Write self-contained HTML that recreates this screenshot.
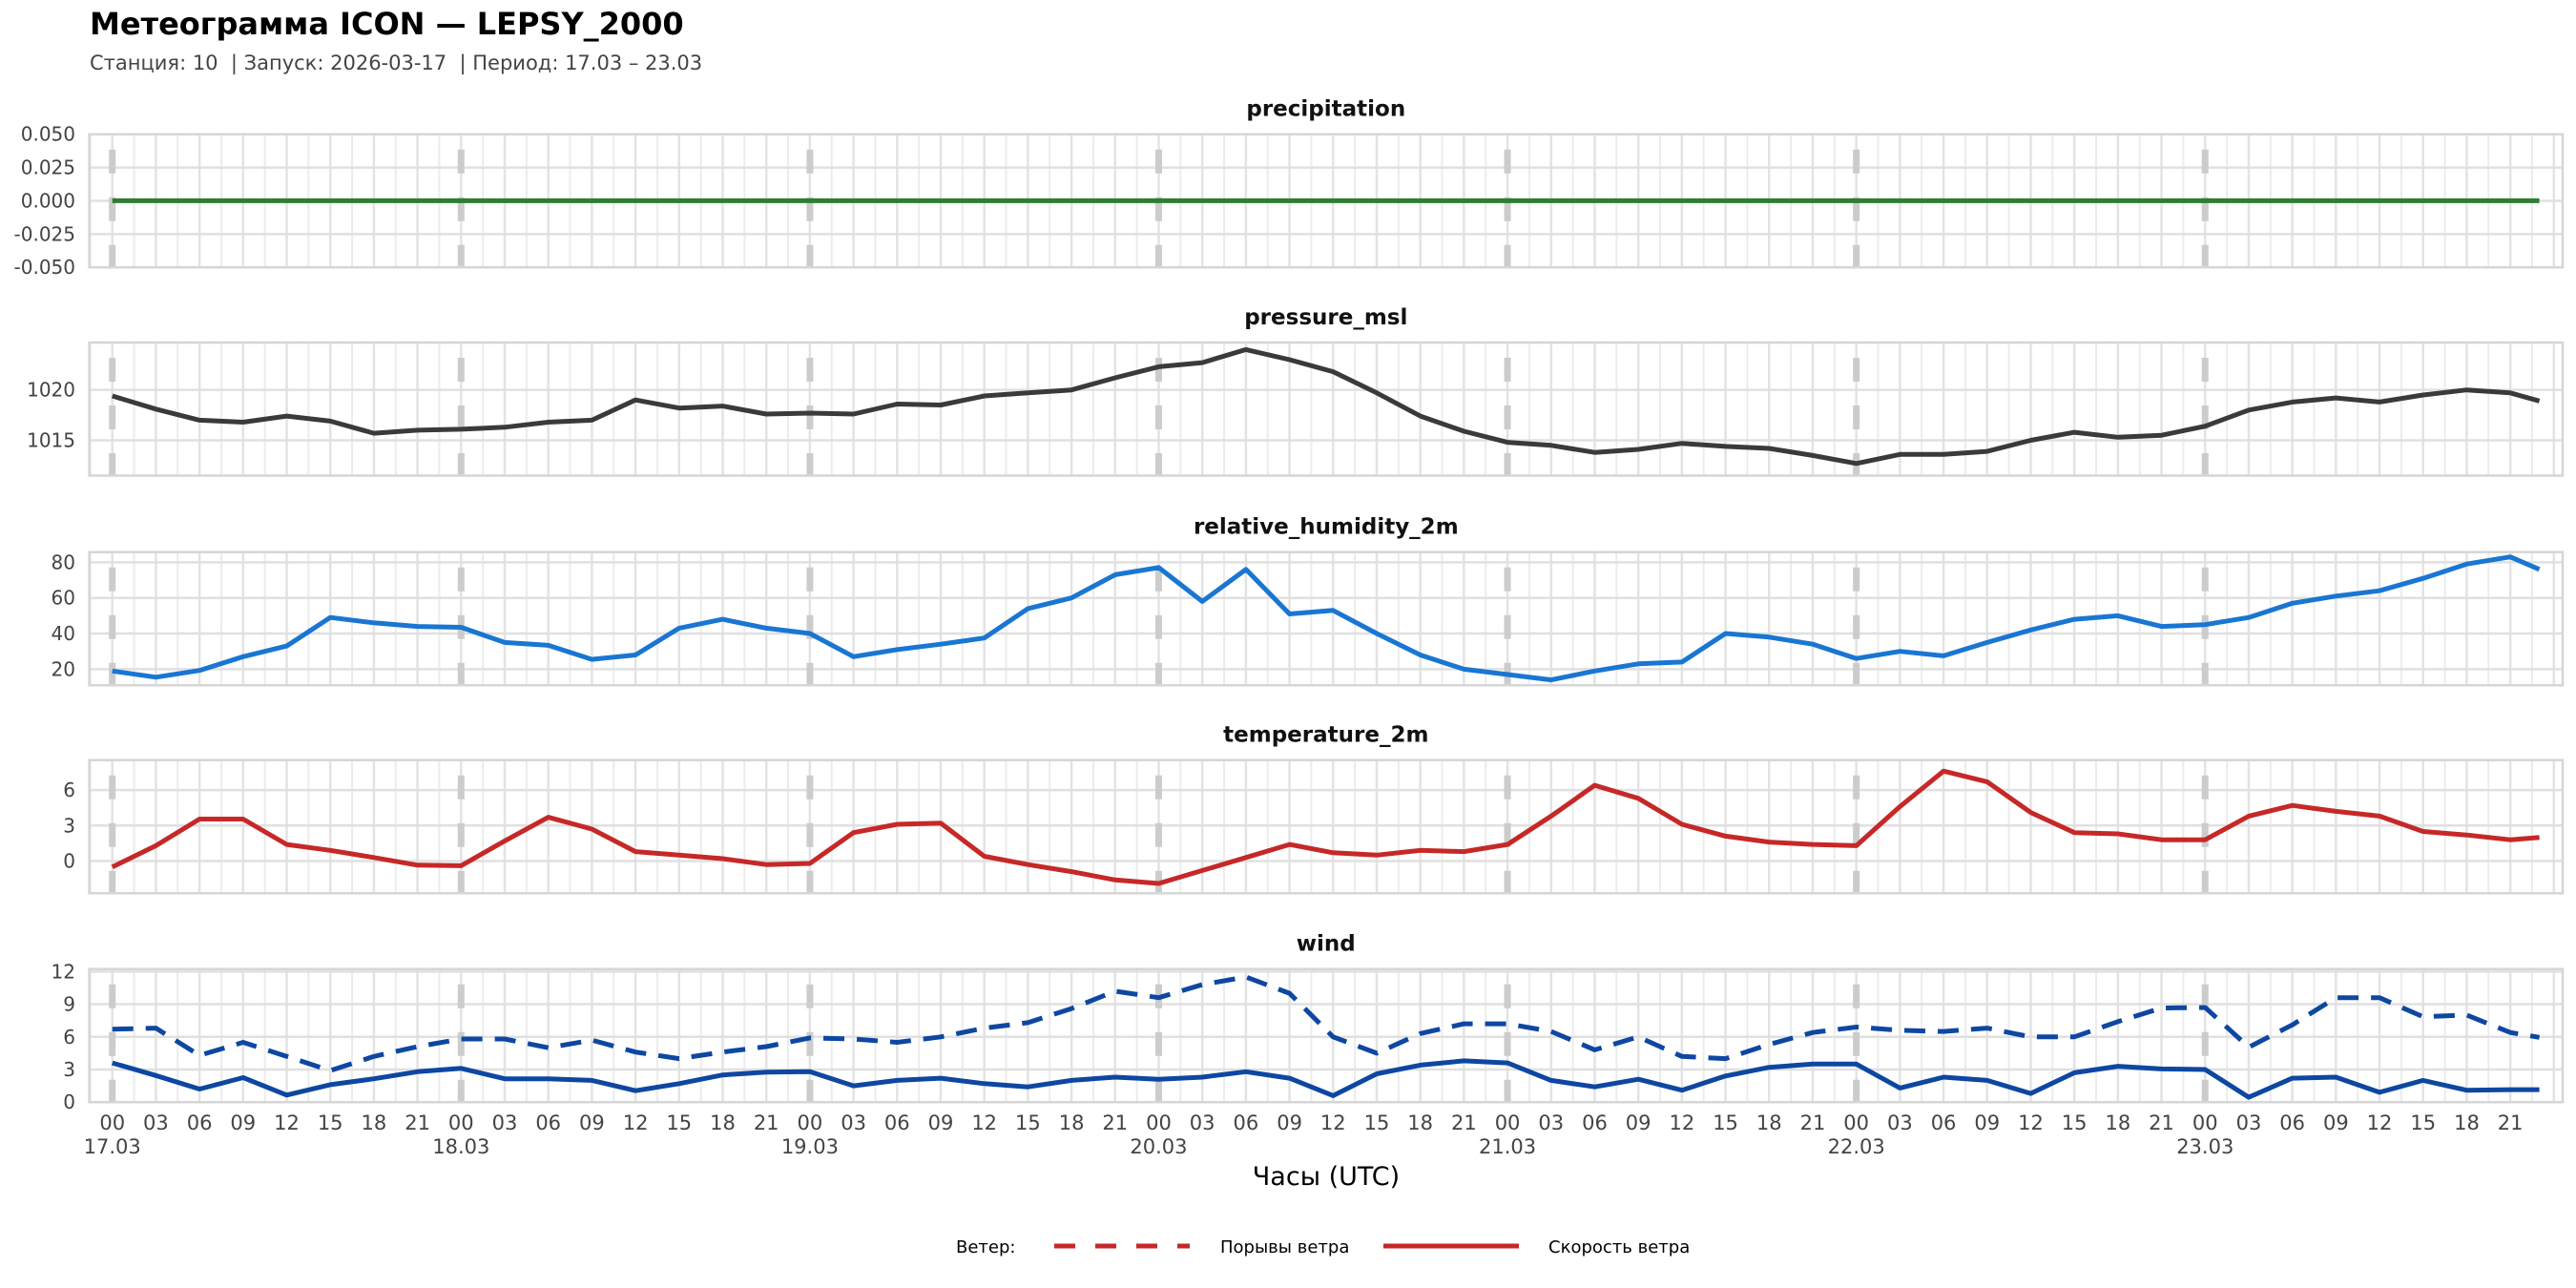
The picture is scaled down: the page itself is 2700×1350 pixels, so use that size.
<!DOCTYPE html>
<html><head><meta charset="utf-8"><style>
html,body{margin:0;padding:0;background:#fff;}
svg{display:block;font-family:"DejaVu Sans","Liberation Sans",sans-serif;}
.pre{white-space:pre;}
</style></head><body>
<svg id="chart" width="2700" height="1350" viewBox="0 0 2700 1350" xmlns="http://www.w3.org/2000/svg">
<text x="94" y="36" font-size="32" font-weight="bold" fill="#000">Метеограмма ICON — LEPSY_2000</text>
<text class="pre" xml:space="preserve" x="94" y="73" font-size="21" fill="#444">Станция: 10  | Запуск: 2026-03-17  | Период: 17.03 – 23.03</text>
<g id="panels"></g>
<text x="1390" y="1242" font-size="27" text-anchor="middle" fill="#000">Часы (UTC)</text>
<g>
<text x="1002" y="1313" font-size="18" fill="#000">Ветер:</text>
<line x1="1105" y1="1306" x2="1247" y2="1306" stroke="#c62828" stroke-width="5" stroke-dasharray="22,21"/>
<text x="1279" y="1313" font-size="18" fill="#000">Порывы ветра</text>
<line x1="1450" y1="1306" x2="1592" y2="1306" stroke="#c62828" stroke-width="5"/>
<text x="1623" y="1313" font-size="18" fill="#000">Скорость ветра</text>
</g>
</svg>
<script>
const hours = [0,3,6,9,12,15,18,21,24,27,30,33,36,39,42,45,48,51,54,57,60,63,66,69,72,75,78,81,84,87,90,93,96,99,102,105,108,111,114,117,120,123,126,129,132,135,138,141,144,147,150,153,156,159,162,165,167];
const precipitation = hours.map(()=>0);
const pressure = [1019.4,1018.1,1017.0,1016.8,1017.4,1016.9,1015.7,1016.0,
1016.1,1016.3,1016.8,1017.0,1019.0,1018.2,1018.4,1017.6,
1017.7,1017.6,1018.6,1018.5,1019.4,1019.7,1020.0,1021.2,
1022.3,1022.7,1024.0,1023.0,1021.8,1019.7,1017.4,1015.9,
1014.8,1014.5,1013.8,1014.1,1014.7,1014.4,1014.2,1013.5,
1012.7,1013.6,1013.6,1013.9,1015.0,1015.8,1015.3,1015.5,
1016.4,1018.0,1018.8,1019.2,1018.8,1019.5,1020.0,1019.7,1018.9];
const humidity = [19,15.5,19.3,27,33,49,46,44,
43.5,35,33.4,25.5,28,43,48,43,
40,27,31,34,37.5,54,60,73,
77,58,76,51,53,40,28,20,
17,14,19,23,24,40,38,34,
26,30,27.5,35,42,48,50,44,
45,49,57,61,64,71,79,83,76];
const temperature = [-0.5,1.3,3.55,3.55,1.4,0.9,0.3,-0.35,
-0.4,1.7,3.7,2.7,0.8,0.5,0.2,-0.3,
-0.2,2.4,3.1,3.2,0.4,-0.3,-0.9,-1.6,
-1.9,-0.8,0.3,1.4,0.7,0.5,0.9,0.8,
1.4,3.8,6.4,5.3,3.1,2.1,1.6,1.4,
1.3,4.6,7.6,6.7,4.1,2.4,2.3,1.8,
1.8,3.8,4.7,4.2,3.8,2.5,2.2,1.8,2.0];
const windSpeed = [3.6,2.45,1.2,2.25,0.65,1.6,2.15,2.8,
3.1,2.15,2.15,2.0,1.05,1.7,2.5,2.75,
2.8,1.5,2.0,2.2,1.7,1.4,2.0,2.3,
2.1,2.3,2.8,2.2,0.6,2.6,3.4,3.8,
3.6,2.0,1.4,2.1,1.1,2.4,3.2,3.5,
3.5,1.3,2.3,2.0,0.8,2.7,3.3,3.05,
3.0,0.45,2.2,2.3,0.9,2.0,1.1,1.15,1.15];
const windGust = [6.7,6.8,4.3,5.5,4.2,2.9,4.2,5.1,
5.8,5.8,5.0,5.7,4.6,4.0,4.6,5.1,
5.9,5.8,5.5,6.0,6.8,7.3,8.6,10.2,
9.6,10.8,11.5,10.0,6.0,4.5,6.3,7.2,
7.2,6.5,4.8,6.0,4.2,4.0,5.3,6.4,
6.9,6.6,6.5,6.8,6.0,6.0,7.4,8.65,
8.7,5.05,7.1,9.6,9.6,7.85,8.0,6.4,5.95];
const precipTicks = [0.05,0.025,0,-0.025,-0.05];
const precipTickLabels = ["0.050","0.025","0.000","-0.025","-0.050"];
const pressureTicks = [1015,1020];
const humidityTicks = [20,40,60,80];
const tempTicks = [0,3,6];
const windTicks = [0,3,6,9,12];
const dateLabels = ["17.03","18.03","19.03","20.03","21.03","22.03","23.03"];

const NS="http://www.w3.org/2000/svg";
const L=93.6, R=2686, PH=139.5;
const xS = h => 117.7 + h*15.233;
function el(tag, attrs, parent){const e=document.createElementNS(NS,tag);for(const k in attrs)e.setAttribute(k,attrs[k]);parent.appendChild(e);return e;}
const root=document.getElementById('panels');

const panels=[
 {name:'precipitation',top:140.7,vmin:-0.05,vmax:0.05,ticks:precipTicks,labels:precipTickLabels,series:[{v:precipitation,c:'#2e7d32',n:'precipitation-line'}]},
 {name:'pressure_msl',top:359,vmin:1011.5,vmax:1024.7,ticks:pressureTicks,series:[{v:pressure,c:'#3a3a3a',n:'pressure-line'}]},
 {name:'relative_humidity_2m',top:578.7,vmin:11,vmax:85.7,ticks:humidityTicks,series:[{v:humidity,c:'#1976d2',n:'humidity-line'}]},
 {name:'temperature_2m',top:796.7,vmin:-2.72,vmax:8.53,ticks:tempTicks,series:[{v:temperature,c:'#c62828',n:'temperature-line'}]},
 {name:'wind',top:1015.7,vmin:0,vmax:12.23,ticks:windTicks,series:[{v:windGust,c:'#0d47a1',n:'wind-gust-line',dash:'22,13'},{v:windSpeed,c:'#0d47a1',n:'wind-speed-line'}]}
];

panels.forEach((p,pi)=>{
 const g=el('g',{},root);
 
 
 const top=p.top, bot=p.top+PH;
 const yS=v=>bot-(v-p.vmin)/(p.vmax-p.vmin)*PH;
 const t=el('text',{x:(L+R)/2,y:top-19,'font-size':23,'font-weight':'bold','text-anchor':'middle',fill:'#111'},g);
 t.textContent=p.name;
 
 
 for(let h=-1.5; h<=168.01; h+=1.5){
  const x=xS(h); if(x<L||x>R) continue;
  const major = Math.abs(h%3)<0.01;
  el('line',{x1:x,y1:top,x2:x,y2:bot,stroke:major?'#e3e3e3':'#ececec','stroke-width':major?2.5:2},g);
 }
 p.ticks.forEach((v,i)=>{
  const y=yS(v);
  el('line',{x1:L,y1:y,x2:R,y2:y,stroke:'#e0e0e0','stroke-width':2.5},g);
  const tl=el('text',{x:79,y:y+7,'font-size':20,'text-anchor':'end',fill:'#444'},g);
  tl.textContent=p.labels?p.labels[i]:String(v);
  
  
 });
 for(let d=0; d<7; d++){
  const x=xS(d*24);
  const dl=el('line',{x1:x,y1:top+16,x2:x,y2:bot,stroke:'#cccccc','stroke-width':7,'stroke-dasharray':'25,25'},g);
  
  
 }
 el('rect',{x:L,y:top,width:R-L,height:PH,fill:'none',stroke:'#d6d6d6','stroke-width':2.5},g);
 p.series.forEach(s=>{
  const pts=hours.map((h,i)=>xS(h).toFixed(1)+','+yS(s.v[i]).toFixed(1)).join(' ');
  const a={points:pts,fill:'none',stroke:s.c,'stroke-width':5,'stroke-linejoin':'round','stroke-linecap':'butt'};
  if(s.dash) a['stroke-dasharray']=s.dash;
  const pl=el('polyline',a,g);
  
  
 });
 if(pi===panels.length-1){
  for(let h=0; h<=165; h+=3){
   const tl=el('text',{x:xS(h),y:bot+29,'font-size':21,'text-anchor':'middle',fill:'#444'},g);
   tl.textContent=String(h%24).padStart(2,'0');
   
   
  }
  dateLabels.forEach((d,i)=>{
   const tl=el('text',{x:xS(i*24),y:bot+54,'font-size':21,'text-anchor':'middle',fill:'#444'},g);
   tl.textContent=d;
   
   
  });
 }
});
</script>
</body></html>
